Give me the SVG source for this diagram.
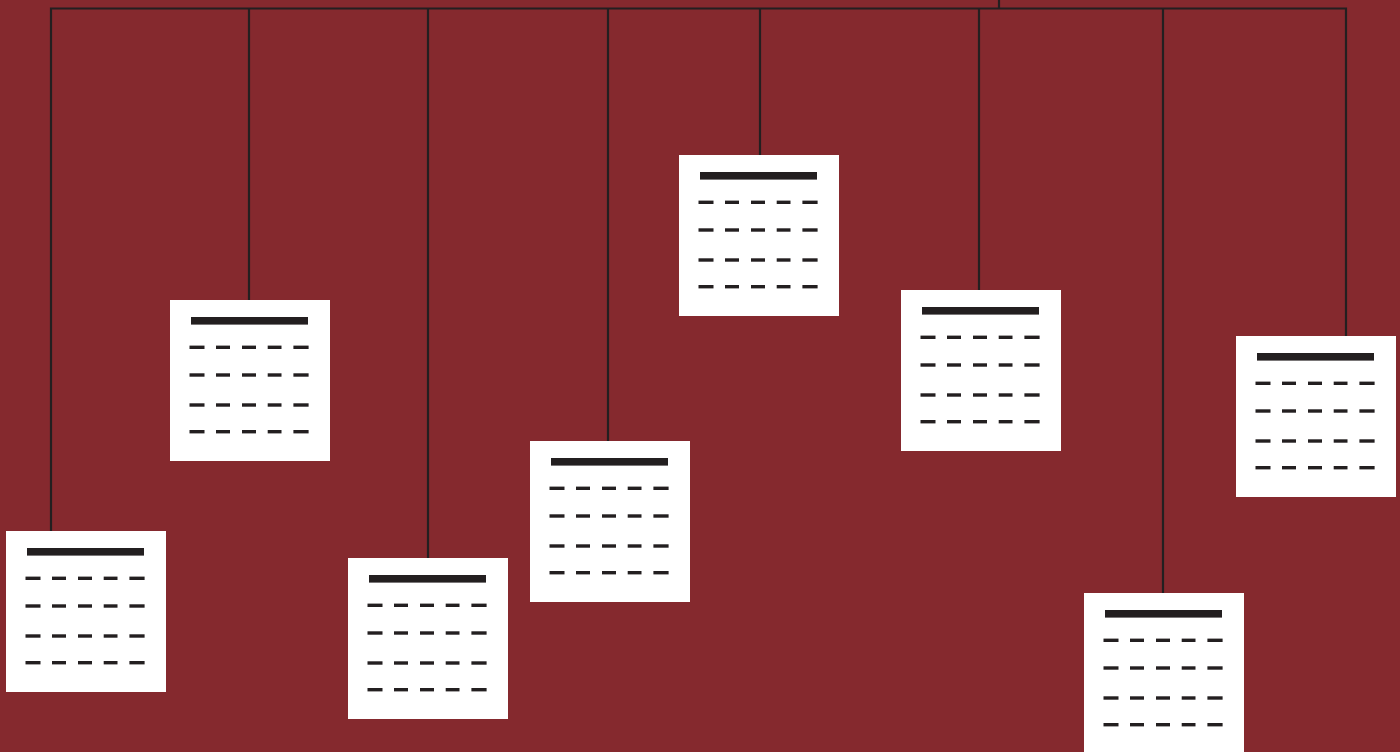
<svg xmlns="http://www.w3.org/2000/svg" xmlns:xlink="http://www.w3.org/1999/xlink" width="1400" height="752" viewBox="0 0 1400 752">
<style>
.bg{fill:#85292e}
.card{fill:#ffffff}
.ink{fill:#231f20}
.conn{fill:none;stroke:#231f20;stroke-width:2.2}
</style>
<defs>
<g id="dashrow">
<rect x="19.5" y="-1.7" width="15" height="3.4"/>
<rect x="46" y="-1.7" width="14" height="3.4"/>
<rect x="72" y="-1.7" width="14" height="3.4"/>
<rect x="97.7" y="-1.7" width="13.8" height="3.4"/>
<rect x="123.4" y="-1.7" width="15.2" height="3.4"/>
</g>
<g id="card">
<rect class="card" x="0" y="0" width="160" height="161"/>
<g class="ink">
<rect x="21" y="17" width="117" height="7.6"/>
<use xlink:href="#dashrow" href="#dashrow" y="47.3"/>
<use xlink:href="#dashrow" href="#dashrow" y="75"/>
<use xlink:href="#dashrow" href="#dashrow" y="105"/>
<use xlink:href="#dashrow" href="#dashrow" y="131.7"/>
</g>
</g>
</defs>
<rect class="bg" x="0" y="0" width="1400" height="752"/>
<g id="connectors">
<path class="conn" d="M51,531 V8.5 H1346 V336"/>
<path class="conn" d="M999,0 V8.5"/>
<path class="conn" d="M249,8.5 V300"/>
<path class="conn" d="M428,8.5 V558"/>
<path class="conn" d="M608,8.5 V441"/>
<path class="conn" d="M760,8.5 V155"/>
<path class="conn" d="M979,8.5 V290"/>
<path class="conn" d="M1163,8.5 V593"/>
</g>
<g id="node1"><use xlink:href="#card" href="#card" x="6" y="531"/></g>
<g id="node2"><use xlink:href="#card" href="#card" x="170" y="300"/></g>
<g id="node3"><use xlink:href="#card" href="#card" x="348" y="558"/></g>
<g id="node4"><use xlink:href="#card" href="#card" x="530" y="441"/></g>
<g id="node5"><use xlink:href="#card" href="#card" x="679" y="155"/></g>
<g id="node6"><use xlink:href="#card" href="#card" x="901" y="290"/></g>
<g id="node7"><use xlink:href="#card" href="#card" x="1084" y="593"/></g>
<g id="node8"><use xlink:href="#card" href="#card" x="1236" y="336"/></g>
</svg>
